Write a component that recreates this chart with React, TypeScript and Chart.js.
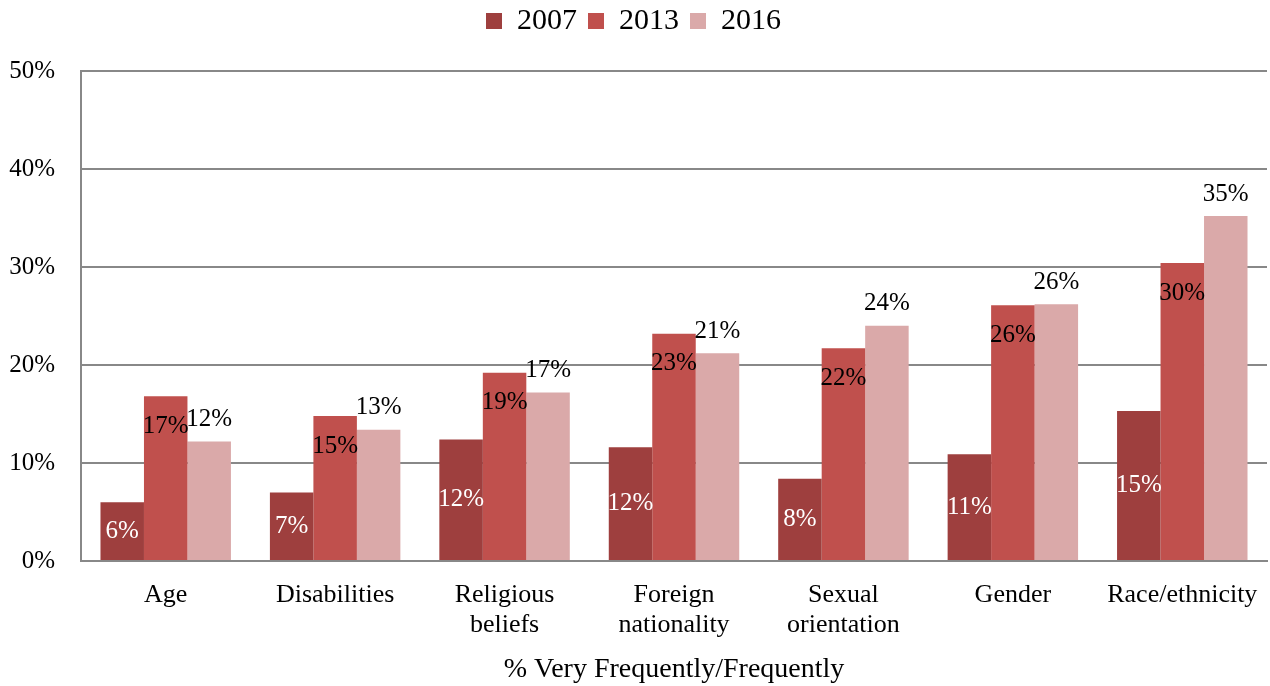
import React, { useEffect, useRef } from "react";
import { Chart, registerables } from "chart.js";

Chart.register(...registerables);

const categories: (string | string[])[] = [
  "Age",
  "Disabilities",
  ["Religious", "beliefs"],
  ["Foreign", "nationality"],
  ["Sexual", "orientation"],
  "Gender",
  "Race/ethnicity",
];
const series2007 = [6.0, 7.0, 12.4, 11.6, 8.4, 10.9, 15.3];
const series2013 = [16.8, 14.8, 19.2, 23.2, 21.7, 26.1, 30.4];
const series2016 = [12.2, 13.4, 17.2, 21.2, 24.0, 26.2, 35.2];
const yTicks = [0, 10, 20, 30, 40, 50];
const xTitle = "% Very Frequently/Frequently";

const FONT = "'Liberation Serif', 'Times New Roman', serif";

const labelPlugin = {
  id: "barLabels",
  afterDatasetsDraw(chart: any) {
    const ctx = chart.ctx;
    ctx.save();
    ctx.font = `25px ${FONT}`;
    ctx.textAlign = "center";
    ctx.textBaseline = "middle";
    chart.data.datasets.forEach((ds: any, di: number) => {
      const meta = chart.getDatasetMeta(di);
      meta.data.forEach((bar: any, i: number) => {
        const v = ds.data[i];
        const txt = Math.round(v) + "%";
        let y: number;
        if (di === 0) {
          ctx.fillStyle = "#ffffff";
          y = (bar.y + bar.base) / 2;
        } else if (di === 1) {
          ctx.fillStyle = "#000000";
          y = bar.y + 30;
        } else {
          ctx.fillStyle = "#000000";
          y = bar.y - 22;
        }
        ctx.fillText(txt, bar.x, y);
      });
    });
    ctx.restore();
  },
};

export default function App() {
  const ref = useRef<HTMLCanvasElement | null>(null);
  useEffect(() => {
    document.body.style.margin = "0";
    if (!ref.current) return;
    const chart = new Chart(ref.current, {
      type: "bar",
      data: {
        labels: categories,
        datasets: [
          { label: "2007", data: series2007, backgroundColor: "#9E3F3E" },
          { label: "2013", data: series2013, backgroundColor: "#C0504D" },
          { label: "2016", data: series2016, backgroundColor: "#DAA9A9" },
        ],
      },
      options: {
        animation: false,
        responsive: true,
        maintainAspectRatio: false,
        layout: { padding: { left: 0, right: 3, top: -5, bottom: 0 } },
        datasets: {
          bar: { categoryPercentage: 0.77, barPercentage: 1.0 },
        },
        plugins: {
          legend: {
            position: "top",
            weight: 3000,
            labels: {
              font: { family: FONT, size: 30 },
              color: "#000",
              boxWidth: 16,
              boxHeight: 16,
              padding: 11,
            },
          } as any,
          subtitle: {
            display: true,
            text: "",
            font: { size: 12, lineHeight: 1 },
            padding: { top: 0, bottom: 13 },
          },
          tooltip: { enabled: false },
        },
        scales: {
          x: {
            grid: { display: false },
            border: { color: "#888888", width: 2 },
            ticks: {
              color: "#000",
              font: { family: FONT, size: 26, lineHeight: 1.15 },
              padding: 11,
              maxRotation: 0,
              autoSkip: false,
            },
            title: {
              display: true,
              text: xTitle,
              color: "#000",
              font: { family: FONT, size: 28 },
              padding: { top: 4, bottom: 0 },
            },
            afterFit(scale: any) {
              scale.height = 125;
            },
          },
          y: {
            min: 0,
            max: 50,
            afterBuildTicks(scale: any) {
              scale.ticks = yTicks.map((v) => ({ value: v }));
            },
            grid: { color: "#888888", lineWidth: 2, drawTicks: false },
            border: { color: "#888888", width: 2 },
            ticks: {
              color: "#000",
              font: { family: FONT, size: 25 },
              padding: 26,
              callback: (v: any) => v + "%",
            },
            afterFit(scale: any) {
              scale.width = 81;
            },
          },
        },
      },
      plugins: [labelPlugin],
    });
    return () => chart.destroy();
  }, []);
  return (
    <div style={{ width: 1270, height: 686, position: "relative" }}>
      <canvas ref={ref} />
    </div>
  );
}
